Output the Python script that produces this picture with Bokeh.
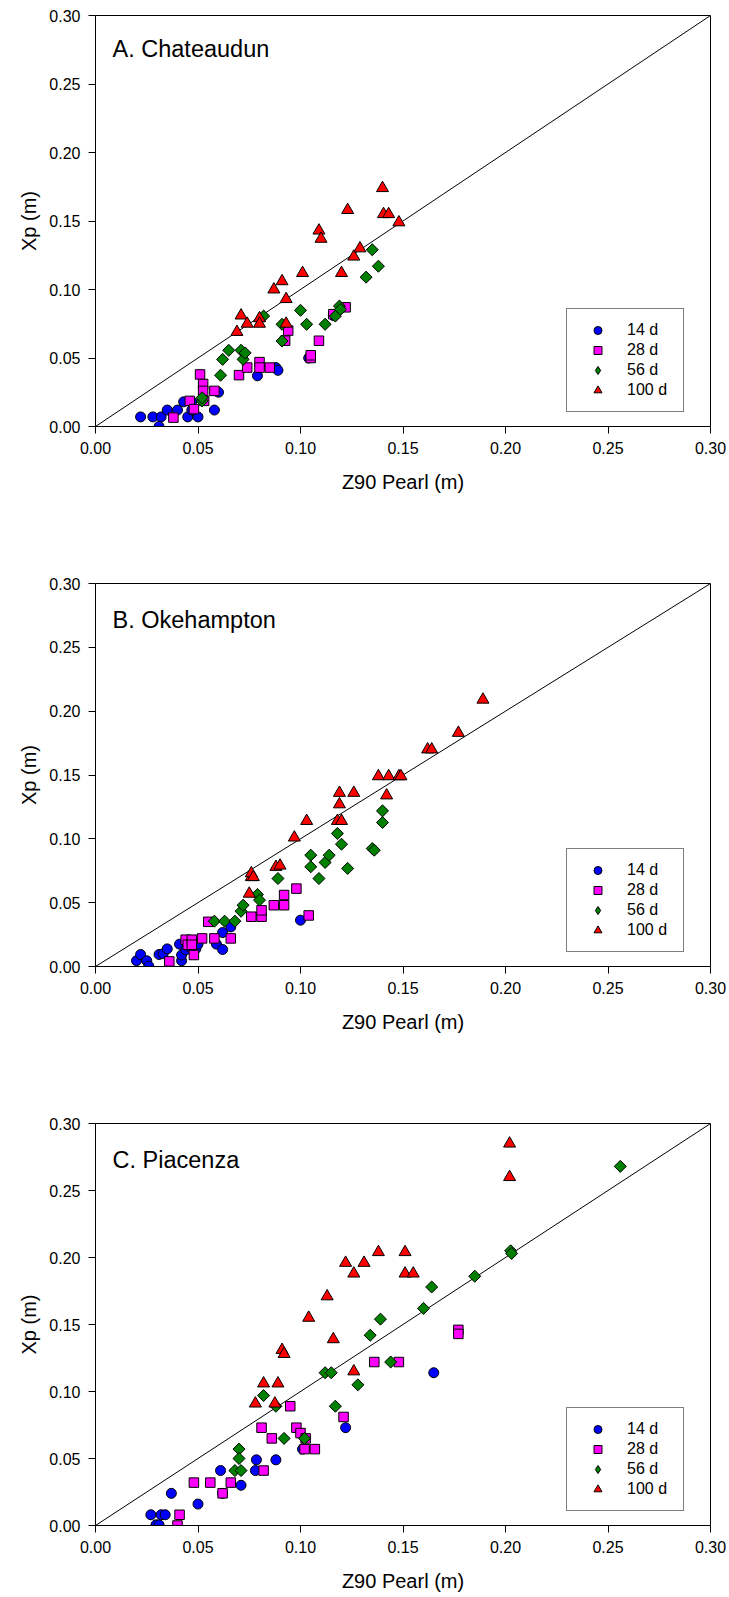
import math
from bokeh.plotting import figure
from bokeh.layouts import column
from bokeh.models import (Range1d, FixedTicker, NumeralTickFormatter, Legend, LegendItem, Label,
                          CDSView, IndexFilter)
from bokeh.embed import file_html
from bokeh.resources import INLINE

# ---------------- data ----------------
ticks = [0.0, 0.05, 0.10, 0.15, 0.20, 0.25, 0.30]
diag_x = [0.0, 0.30]
diag_y = [0.0, 0.30]
series_labels = ["14 d", "28 d", "56 d", "100 d"]
panel_titles = ["A. Chateaudun", "B. Okehampton", "C. Piacenza"]
x_title = "Z90 Pearl (m)"
y_title = "Xp (m)"

# Panel A - Chateaudun
a14_x = [0.022, 0.028, 0.032, 0.031, 0.035, 0.040, 0.043, 0.047, 0.045, 0.050, 0.047, 0.058, 0.060, 0.079, 0.088, 0.089, 0.104, 0.116]
a14_y = [0.007, 0.007, 0.007, 0.000, 0.012, 0.012, 0.018, 0.018, 0.007, 0.007, 0.012, 0.012, 0.025, 0.037, 0.043, 0.041, 0.050, 0.081]
a28_x = [0.038, 0.046, 0.048, 0.051, 0.0525, 0.0525, 0.058, 0.053, 0.070, 0.074, 0.080, 0.080, 0.085, 0.0925, 0.094, 0.109, 0.105, 0.105, 0.116, 0.122]
a28_y = [0.0065, 0.0187, 0.0127, 0.038, 0.031, 0.026, 0.026, 0.0187, 0.0375, 0.043, 0.047, 0.043, 0.043, 0.0626, 0.070, 0.0626, 0.050, 0.052, 0.082, 0.087]
a56_x = [0.052, 0.052, 0.061, 0.062, 0.065, 0.071, 0.072, 0.073, 0.082, 0.091, 0.091, 0.100, 0.103, 0.112, 0.117, 0.119, 0.1195, 0.132, 0.135, 0.138]
a56_y = [0.0187, 0.021, 0.0374, 0.049, 0.0556, 0.0556, 0.049, 0.0537, 0.0806, 0.0746, 0.0624, 0.0848, 0.0746, 0.0746, 0.0806, 0.0879, 0.0855, 0.109, 0.129, 0.117]
a100_x = [0.069, 0.071, 0.074, 0.080, 0.080, 0.087, 0.091, 0.093, 0.093, 0.101, 0.109, 0.110, 0.120, 0.126, 0.129, 0.123, 0.140, 0.1405, 0.143, 0.148]
a100_y = [0.069, 0.081, 0.075, 0.079, 0.075, 0.100, 0.106, 0.093, 0.075, 0.112, 0.143, 0.137, 0.112, 0.124, 0.130, 0.158, 0.174, 0.155, 0.155, 0.149]

# Panel B - Okehampton
b14_x = [0.020, 0.022, 0.025, 0.026, 0.031, 0.033, 0.035, 0.041, 0.042, 0.042, 0.044, 0.046, 0.049, 0.050, 0.059, 0.062, 0.062, 0.066, 0.100]
b14_y = [0.0045, 0.0094, 0.0045, 0.0003, 0.0094, 0.010, 0.0138, 0.0175, 0.0045, 0.009, 0.013, 0.0155, 0.014, 0.0175, 0.0175, 0.0133, 0.0266, 0.031, 0.0363]
b28_x = [0.036, 0.044, 0.045, 0.047, 0.048, 0.047, 0.052, 0.055, 0.058, 0.066, 0.076, 0.081, 0.081, 0.087, 0.092, 0.092, 0.098, 0.104]
b28_y = [0.004, 0.021, 0.017, 0.021, 0.009, 0.017, 0.022, 0.035, 0.022, 0.022, 0.039, 0.039, 0.044, 0.048, 0.048, 0.056, 0.061, 0.040]
b56_x = [0.058, 0.063, 0.068, 0.071, 0.072, 0.079, 0.080, 0.089, 0.105, 0.105, 0.109, 0.112, 0.114, 0.118, 0.120, 0.123, 0.135, 0.136, 0.140, 0.140]
b56_y = [0.0355, 0.0355, 0.0355, 0.0433, 0.048, 0.0564, 0.052, 0.0689, 0.0872, 0.0781, 0.0689, 0.0815, 0.0872, 0.1042, 0.0958, 0.0768, 0.0924, 0.0911, 0.1219, 0.1128]
b100_x = [0.075, 0.076, 0.076, 0.077, 0.088, 0.090, 0.097, 0.103, 0.118, 0.120, 0.119, 0.119, 0.126, 0.138, 0.143, 0.148, 0.149, 0.142, 0.162, 0.164, 0.177, 0.189]
b100_y = [0.057, 0.070, 0.073, 0.070, 0.078, 0.079, 0.101, 0.114, 0.114, 0.114, 0.127, 0.136, 0.136, 0.149, 0.149, 0.149, 0.149, 0.134, 0.170, 0.170, 0.183, 0.209]

# Panel C - Piacenza
c14_x = [0.027, 0.0295, 0.031, 0.032, 0.034, 0.037, 0.050, 0.061, 0.071, 0.078, 0.0785, 0.088, 0.101, 0.122, 0.165, 0.062]
c14_y = [0.008, 0.0005, 0.0005, 0.008, 0.008, 0.024, 0.016, 0.041, 0.030, 0.041, 0.049, 0.049, 0.057, 0.073, 0.114, 0.024]
c28_x = [0.040, 0.041, 0.048, 0.056, 0.062, 0.066, 0.081, 0.082, 0.086, 0.095, 0.098, 0.100, 0.1025, 0.102, 0.107, 0.121, 0.136, 0.148, 0.177, 0.177]
c28_y = [0.000, 0.008, 0.032, 0.032, 0.024, 0.032, 0.073, 0.041, 0.065, 0.089, 0.073, 0.069, 0.065, 0.057, 0.057, 0.081, 0.122, 0.122, 0.146, 0.143]
c56_x = [0.068, 0.070, 0.070, 0.071, 0.082, 0.088, 0.092, 0.102, 0.112, 0.115, 0.117, 0.128, 0.134, 0.139, 0.144, 0.160, 0.164, 0.185, 0.2025, 0.203, 0.256]
c56_y = [0.041, 0.057, 0.050, 0.041, 0.097, 0.089, 0.065, 0.065, 0.114, 0.114, 0.089, 0.105, 0.142, 0.154, 0.122, 0.162, 0.178, 0.186, 0.205, 0.203, 0.268]
c100_x = [0.078, 0.082, 0.0875, 0.089, 0.091, 0.092, 0.104, 0.113, 0.116, 0.122, 0.126, 0.126, 0.131, 0.138, 0.151, 0.151, 0.155, 0.202, 0.202]
c100_y = [0.091, 0.106, 0.091, 0.106, 0.131, 0.128, 0.155, 0.171, 0.139, 0.196, 0.188, 0.115, 0.196, 0.204, 0.204, 0.188, 0.188, 0.285, 0.260]

# ---------------- style ----------------
FONT = "Liberation Sans"
colors = ["#0000FF", "#FF00FF", "#008000", "#FF0000"]
markers = ["circle", "square", "square", "triangle"]
legend_markers = ["circle", "square", "diamond", "triangle"]
angles = [0.0, 0.0, math.pi / 4, 0.0]
sizes = [10, 9.5, 8.5, 12]


def make_panel(series, title, height, border_top, border_bottom, title_y):
    p = figure(width=729, height=height,
               x_range=Range1d(0, 0.3), y_range=Range1d(0, 0.3),
               output_backend="svg", toolbar_location=None,
               min_border_left=95, min_border_right=19,
               min_border_top=border_top, min_border_bottom=border_bottom,
               background_fill_color="white", border_fill_color="white")
    p.grid.visible = False
    p.outline_line_color = "black"
    p.outline_line_width = 1

    for ax in (p.xaxis[0], p.yaxis[0]):
        ax.ticker = FixedTicker(ticks=ticks)
        ax.formatter = NumeralTickFormatter(format="0.00")
        ax.major_tick_out = 7
        ax.major_tick_in = 0
        ax.minor_tick_out = 0
        ax.minor_tick_in = 0
        ax.major_label_standoff = 8
        ax.axis_line_color = "black"
        ax.major_tick_line_color = "black"
        ax.major_label_text_font = FONT
        ax.major_label_text_font_size = "16px"
        ax.major_label_text_color = "black"
        ax.axis_label_text_font = FONT
        ax.axis_label_text_font_size = "20px"
        ax.axis_label_text_font_style = "normal"
        ax.axis_label_text_color = "black"
    p.xaxis.axis_label = x_title
    p.yaxis.axis_label = y_title
    p.xaxis.axis_label_standoff = 14
    p.yaxis.axis_label_standoff = 6

    p.line(diag_x, diag_y, line_color="black", line_width=1)

    items = []
    for (xs, ys), lab, col, mk, lmk, ang, sz in zip(series, series_labels, colors, markers,
                                                   legend_markers, angles, sizes):
        swatch = None
        if lmk != mk:
            # legend swatch: a small diamond hidden underneath the first real marker
            swatch = p.scatter(xs, ys, marker=lmk, size=sz,
                               fill_color=col, line_color="black", line_width=1,
                               view=CDSView(filter=IndexFilter(indices=[0])))
        r = p.scatter(xs, ys, marker=mk, angle=ang, size=sz,
                      fill_color=col, line_color="black", line_width=1)
        items.append(LegendItem(label=lab, renderers=[swatch if swatch is not None else r]))

    legend = Legend(items=items, location=(471, 14), padding=11, spacing=0,
                    glyph_width=39, glyph_height=20, label_standoff=10,
                    label_width=45, label_height=20, margin=0,
                    label_text_font=FONT, label_text_font_size="16px",
                    label_text_color="black",
                    border_line_color="black", border_line_width=1,
                    background_fill_color="white", background_fill_alpha=1)
    p.add_layout(legend)

    p.add_layout(Label(x=0.0083, y=title_y, text=title, text_font=FONT,
                       text_font_size="23.5px", text_color="black",
                       text_baseline="alphabetic"))
    return p


pa = make_panel([(a14_x, a14_y), (a28_x, a28_y), (a56_x, a56_y), (a100_x, a100_y)],
                panel_titles[0], 530, 15, 104, 0.2755)
pb = make_panel([(b14_x, b14_y), (b28_x, b28_y), (b56_x, b56_y), (b100_x, b100_y)],
                panel_titles[1], 540, 53, 104, 0.2715)
pc = make_panel([(c14_x, c14_y), (c28_x, c28_y), (c56_x, c56_y), (c100_x, c100_y)],
                panel_titles[2], 527, 53, 72, 0.2725)

layout = column(pa, pb, pc, spacing=0)
open("out.html", "w").write(file_html(layout, INLINE))
